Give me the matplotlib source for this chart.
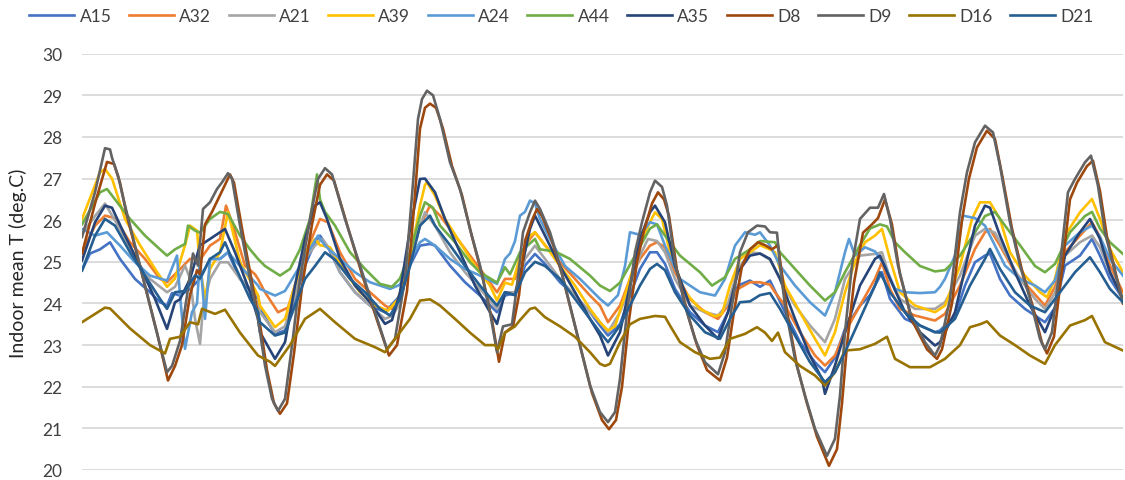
import matplotlib
matplotlib.use("Agg")
import matplotlib.pyplot as plt

# time axis in hours from the start of the record, temperatures in deg.C
a15_t = [0, 1.6, 3.6, 5.6, 7.6, 10.6, 13.6, 15.6, 17, 18, 19.6, 21.6, 23.6, 25.6, 27.6, 29.2, 31.6, 35.2, 35.6, 38.6,
         40.6, 42.6, 44.6, 46.6, 47.6, 49.2, 51.6, 54.6, 57.6, 60.6, 63.6, 65.6, 67.6, 69.6, 70.6, 73.6, 76.6, 79.6, 83, 84.6,
         86.6, 88.6, 90.6, 92.6, 95.6, 98.6, 101.6, 103.6, 105.2, 107.6, 109.6, 111.6, 113.6, 115, 116.6, 118.6, 121.6, 124.6, 127.2, 129.2,
         131.2, 133.6, 135.6, 137.6, 138.6, 140.6, 143.6, 146.6, 148.6, 150.6, 152.6, 155.6, 157.6, 158.6, 160, 161.6, 164.6, 167.6, 170.6, 171.6,
         174.6, 176.6, 178.6, 180.6, 181.6, 183.6, 185.6, 188.6, 192.6, 194.6, 196.6, 199.6, 202, 203.6, 205.6, 208.2]
a15_v = [24.8, 25.2, 25.3, 25.47, 25.07, 24.59, 24.27, 24.03, 23.95, 24.25, 24.19, 24.35, 24.59, 25.07, 25.07, 25.23, 24.59, 24.11, 23.87, 23.27,
         23.35, 24.11, 24.91, 25.47, 25.63, 25.35, 24.75, 24.27, 23.95, 23.79, 24.19, 24.91, 25.39, 25.43, 25.39, 24.91, 24.51, 24.19, 23.79, 24.19,
         24.25, 24.91, 25.19, 24.95, 24.51, 24.19, 23.79, 23.47, 23.23, 23.5, 24.19, 24.83, 25.23, 25.23, 24.95, 24.35, 23.79, 23.47, 23.31, 23.79,
         24.43, 24.55, 24.4, 24.55, 24.3, 23.79, 23.07, 22.59, 22.35, 22.7, 23.39, 23.95, 24.2, 24.43, 24.75, 24.11, 23.63, 23.47, 23.31, 23.35,
         23.7, 24.43, 24.99, 25.15, 25.2, 24.59, 24.19, 23.87, 23.55, 23.9, 24.91, 25.15, 25.55, 25.15, 24.59, 24.11]

a32_t = [0, 2.6, 4.6, 6.6, 9.6, 12.6, 15.6, 17, 19, 21.6, 23.6, 25.6, 27.6, 28.8, 30, 32.6, 34.6, 35.2, 36.6, 39.2,
         41.2, 43.6, 45.6, 47.6, 49.2, 51.6, 54.6, 57.6, 60.6, 62, 63.6, 65.6, 67.6, 69.6, 71.6, 74.6, 77.6, 80.6, 83, 84.6,
         86.6, 88.6, 90.6, 92.6, 95.6, 98.6, 101.6, 103.6, 105.2, 107.6, 109.6, 111.6, 113.6, 115, 116.6, 118.6, 121.6, 124.6, 127.2, 129.2,
         131.2, 133.6, 135.6, 137.6, 138.6, 140.6, 143.6, 146.6, 148.6, 150.6, 152.6, 155.6, 158.6, 160, 161.6, 163.6, 166.6, 170.6, 172.6, 175.6,
         178.6, 180.6, 181.6, 183.6, 186.6, 189.6, 192.6, 194.6, 196.6, 199.6, 202, 203.6, 205.6, 208.2]
a32_v = [25.23, 25.87, 26.11, 26.05, 25.47, 25.07, 24.59, 24.51, 24.75, 25.07, 25.05, 25.39, 25.55, 26.35, 25.95, 24.91, 24.7, 24.59, 24.27, 23.79,
         23.9, 24.83, 25.47, 26.03, 25.95, 25.23, 24.59, 24.27, 23.95, 23.87, 24.1, 24.99, 25.87, 26.35, 26.11, 25.63, 25.15, 24.67, 24.27, 24.59,
         24.59, 25.39, 25.71, 25.4, 24.99, 24.59, 24.19, 23.95, 23.55, 23.95, 24.59, 25.07, 25.39, 25.47, 25.35, 24.75, 24.11, 23.79, 23.63, 23.95,
         24.35, 24.51, 24.51, 24.45, 24.27, 23.95, 23.31, 22.75, 22.51, 22.75, 23.31, 23.95, 24.59, 24.99, 24.35, 23.87, 23.71, 23.59, 23.75, 24.43,
         25.31, 25.71, 25.79, 25.39, 24.75, 24.35, 23.95, 24.4, 25.23, 25.63, 25.95, 25.6, 24.91, 24.27]

a21_t = [0, 2.6, 4.6, 7.6, 10.6, 13.6, 17, 18.6, 20.6, 21.6, 22.6, 23.6, 24.2, 25.6, 27.6, 29.2, 31.6, 35.2, 35.6, 38.6,
         40.6, 42.6, 44.6, 46.6, 48, 49.6, 51.6, 54.6, 57.6, 60.6, 62, 63.6, 65.6, 67.6, 68.6, 69.6, 70.6, 73.6, 76.6, 79.6,
         83, 84.6, 86.6, 88.6, 90.6, 92.6, 95.6, 98.6, 101.6, 103.6, 105.2, 107.6, 109.6, 111.6, 113.2, 115, 116.6, 118.6, 121.6, 124.6,
         127.2, 129.2, 131.2, 133.6, 135.6, 137.6, 139.6, 142.6, 145.6, 148.6, 150.6, 152.6, 155.6, 158.6, 160, 161.6, 163.6, 166.6, 170.6, 172.6,
         175.6, 178.6, 180.6, 182.6, 184.6, 187.6, 190.6, 192.6, 194.6, 196.6, 199.6, 202, 203.6, 205.6, 208.2]
a21_v = [25.67, 26.1, 26.4, 25.79, 25.07, 24.59, 24.27, 24.4, 24.91, 24.6, 23.63, 23.03, 23.9, 24.59, 24.99, 24.99, 24.59, 24.19, 23.79, 23.31,
         23.45, 24.19, 25.07, 25.39, 25.55, 25.3, 24.75, 24.27, 23.95, 23.63, 23.7, 24.0, 25.07, 25.87, 26.19, 26.03, 25.87, 25.23, 24.75, 24.35,
         23.87, 24.27, 24.27, 25.07, 25.39, 25.07, 24.59, 24.19, 23.79, 23.55, 23.31, 23.79, 24.43, 25.15, 25.55, 25.5, 25.23, 24.59, 23.95, 23.79,
         23.71, 24.0, 24.83, 25.23, 25.2, 25.05, 24.59, 23.95, 23.47, 23.07, 23.63, 24.59, 25.15, 25.19, 25.23, 24.59, 24.11, 23.87, 23.87, 24.03,
         24.67, 25.63, 25.79, 25.7, 25.23, 24.59, 24.11, 23.87, 24.25, 25.15, 25.47, 25.63, 25.35, 24.75, 24.11]

a39_t = [0, 3.6, 4.6, 6, 8.6, 11.6, 14.6, 17, 18.6, 20.6, 21.6, 23, 23.6, 24.6, 25.6, 27.6, 29.2, 31.6, 35.2, 35.6,
         38.6, 40.6, 42.6, 44.6, 46.6, 47.6, 49.6, 52.6, 55.6, 58.6, 61.2, 63.2, 65.6, 67.6, 68.6, 69, 70.6, 72.6, 75.6, 78.6,
         81.6, 83, 84.6, 86, 87.4, 89.6, 90.6, 92.6, 95.6, 98.6, 101.6, 103.6, 105.2, 106.6, 108.6, 110.6, 112.6, 114.6, 116, 117.6,
         120.6, 123.6, 126.6, 128, 129.6, 131.6, 133.6, 135.6, 137.6, 138.6, 140.6, 143.6, 146.6, 148.6, 150.6, 152.6, 154.6, 156.6, 158.6, 160,
         161.6, 163.6, 166.6, 170.6, 172.6, 175.6, 178, 179.6, 181.6, 183.6, 185.6, 188.6, 191.6, 193, 194.6, 196.6, 199.6, 202, 203.6, 205.6,
         208.2]
a39_v = [26.03, 27.15, 27.23, 27.0, 26.03, 25.4, 24.83, 24.4, 24.6, 25.4, 25.87, 25.75, 24.9, 24.1, 24.83, 25.23, 26.2, 25.0, 24.2, 23.95,
         23.43, 23.63, 24.43, 25.23, 25.55, 25.4, 25.35, 24.75, 24.27, 23.95, 23.83, 24.1, 25.07, 26.35, 26.85, 26.91, 26.59, 26.03, 25.47, 24.9,
         24.43, 24.07, 24.5, 24.45, 25.03, 25.63, 25.71, 25.4, 24.9, 24.43, 23.87, 23.55, 23.35, 23.45, 24.2, 25.0, 25.71, 26.19, 26.03, 25.23,
         24.27, 23.87, 23.69, 23.75, 24.43, 25.07, 25.23, 25.4, 25.3, 25.23, 24.43, 23.79, 23.15, 22.75, 23.31, 24.27, 25.0, 25.47, 25.63, 25.79,
         25.07, 24.27, 23.95, 23.79, 23.95, 24.9, 26.03, 26.43, 26.43, 26.03, 25.23, 24.67, 24.27, 24.15, 24.59, 25.63, 26.19, 26.51, 26.03, 25.31,
         24.75]

a24_t = [0, 2.6, 5, 7.6, 10.6, 13.6, 17, 19, 19.6, 20.6, 22, 23, 23.6, 24.6, 25.6, 27.6, 29.2, 31.6, 35.2, 35.6,
         38.6, 40.6, 43.6, 45.6, 47.2, 48.6, 51.6, 54.6, 57.6, 61.6, 63.6, 65.6, 67.6, 68.6, 70.6, 73.6, 76.6, 79.6, 83, 84.6,
         85.6, 86.6, 87.6, 88.6, 89.6, 90.6, 91.6, 93.6, 96.6, 99.6, 101.6, 103.6, 105.2, 107.2, 108.6, 109.6, 111.6, 113.6, 115, 116.6,
         119.6, 123.6, 126.6, 128.6, 130.6, 132.6, 134.6, 135.6, 137.6, 139.6, 142.6, 145.6, 148.6, 150.6, 152.6, 153.4, 154.6, 156.6, 158.6, 160.6,
         162.6, 164.6, 167.6, 170.6, 171.6, 172.6, 174.6, 176.2, 178.6, 180.6, 182.6, 184.6, 187.6, 190.6, 192.6, 194.6, 196.6, 199.6, 202, 203.6,
         205.6, 208.2]
a24_v = [25.79, 25.63, 25.71, 25.39, 24.99, 24.67, 24.55, 25.15, 24.19, 22.91, 23.79, 24.0, 25.1, 23.63, 25.07, 25.07, 25.23, 24.9, 24.43, 24.35,
         24.19, 24.3, 24.9, 25.31, 25.63, 25.39, 25.07, 24.75, 24.51, 24.35, 24.45, 25.07, 25.47, 25.55, 25.39, 25.07, 24.83, 24.67, 24.47, 25.07,
         25.2, 25.5, 26.11, 26.2, 26.47, 26.4, 26.03, 25.55, 24.9, 24.59, 24.35, 24.11, 23.95, 24.2, 24.9, 25.71, 25.65, 25.95, 25.9, 25.39,
         24.59, 24.27, 24.19, 24.59, 25.39, 25.71, 25.65, 25.71, 25.39, 24.91, 24.43, 24.03, 23.71, 24.27, 25.23, 25.55, 25.15, 25.35, 25.25, 24.91,
         24.35, 24.27, 24.25, 24.27, 24.4, 24.59, 25.15, 26.11, 26.05, 25.87, 25.39, 24.91, 24.59, 24.43, 24.27, 24.55, 25.39, 25.71, 25.87, 25.6,
         25.07, 24.67]

a44_t = [0, 3.6, 5, 6.6, 9.6, 12.6, 15.6, 17, 18.6, 20.6, 21.2, 22.6, 23.6, 25.6, 27.6, 29.2, 31.6, 33.6, 35.2, 36.6,
         39.6, 41.6, 43.6, 45.6, 47, 47.6, 48.6, 50.6, 53.6, 56.6, 59.6, 62, 63.6, 65.6, 67.6, 68.6, 70.2, 71.6, 74.6, 77.6,
         79.6, 83, 84.6, 85.6, 87.6, 90.6, 91.6, 94.6, 97.6, 101.6, 103.6, 105.6, 107.6, 110.6, 113.6, 115, 116.6, 119.6, 123.6, 126,
         128.6, 130.6, 133.6, 135.6, 138.6, 139.6, 142.6, 145.6, 148.6, 150.6, 152.6, 155.6, 157.6, 159.6, 161, 162.6, 164.6, 167.6, 170.6, 172.6,
         175.6, 178.6, 180.6, 182.6, 184.6, 187.6, 190.6, 192.6, 194.6, 197.6, 200.6, 202, 203.6, 205.6, 208.2]
a44_v = [25.9, 26.67, 26.75, 26.5, 26.03, 25.63, 25.3, 25.15, 25.3, 25.43, 25.87, 25.75, 25.7, 26.03, 26.2, 26.15, 25.63, 25.3, 25.07, 24.9,
         24.67, 24.83, 25.3, 26.03, 27.1, 26.5, 26.2, 25.87, 25.23, 24.83, 24.47, 24.4, 24.6, 25.23, 26.1, 26.43, 26.3, 25.87, 25.47, 24.99,
         24.75, 24.5, 24.87, 24.7, 25.23, 25.55, 25.3, 25.25, 25.07, 24.67, 24.43, 24.3, 24.5, 25.15, 25.8, 25.9, 25.63, 25.15, 24.75, 24.43,
         24.63, 25.07, 25.3, 25.5, 25.47, 25.23, 24.83, 24.43, 24.07, 24.27, 24.75, 25.4, 25.8, 25.9, 25.85, 25.47, 25.23, 24.9, 24.77, 24.8,
         25.15, 25.71, 26.1, 26.2, 25.87, 25.4, 24.9, 24.75, 24.95, 25.71, 26.1, 26.2, 25.8, 25.47, 25.19]

a35_t = [0, 2.6, 4.6, 6, 8.6, 11.6, 14.6, 17, 18.6, 19.6, 21.6, 23.6, 24.6, 26.6, 28.6, 30.6, 33.6, 35.2, 35.6, 38.6,
         40.6, 42.6, 44.6, 46.6, 47.6, 49, 51.6, 54.6, 57.6, 60.6, 62, 63.6, 65.6, 67.6, 68.6, 70.6, 72.6, 75.6, 78.6, 81.6,
         83, 84.6, 86.6, 88, 89.6, 90.6, 92.6, 95.6, 98.6, 101.6, 103.6, 105.2, 107.6, 109.6, 111.6, 113.6, 114.6, 116.6, 118.6, 121.6,
         124.6, 127.2, 129.2, 131.2, 133.6, 135.6, 137.6, 139.6, 142.6, 145.6, 148, 148.6, 150.6, 152.6, 155.6, 158.6, 159.6, 161.6, 164.6, 167.6,
         170.6, 171.6, 174.6, 176.6, 178.6, 180.6, 181.6, 183.6, 186.6, 189.6, 192.6, 194.6, 196.6, 199.6, 201.6, 203.6, 205.6, 208.2]
a35_v = [25.03, 25.95, 26.35, 26.3, 25.63, 24.9, 24.11, 23.39, 24.03, 24.1, 24.59, 25.4, 25.47, 25.63, 25.79, 25.23, 24.27, 23.63, 23.31, 22.67,
         23.07, 24.43, 25.55, 26.35, 26.43, 26.03, 25.07, 24.43, 24.03, 23.51, 23.6, 24.27, 25.79, 26.99, 27.0, 26.67, 26.03, 25.23, 24.43, 23.79,
         23.51, 24.27, 24.2, 24.9, 25.79, 26.11, 25.63, 24.9, 24.27, 23.63, 23.23, 22.75, 23.31, 24.43, 25.55, 26.19, 26.35, 25.95, 24.9, 23.95,
         23.47, 23.15, 23.79, 24.75, 25.15, 25.2, 25.07, 24.59, 23.63, 22.75, 22.19, 21.83, 22.51, 23.31, 24.43, 25.07, 25.15, 24.59, 23.79, 23.31,
         22.99, 23.07, 23.79, 24.83, 25.87, 26.35, 26.3, 25.63, 24.75, 23.95, 23.31, 23.9, 25.15, 25.71, 26.03, 25.55, 24.75, 24.11]

d8_t = [0, 2.6, 5, 6.4, 7.6, 9, 12, 15, 17.2, 18.6, 20, 21.6, 23, 23.6, 24.6, 26, 27.6, 29.6, 30.4, 32,
        34, 35.6, 37, 38.4, 39.6, 41, 42.4, 44, 46, 47.6, 49, 50.4, 53, 56, 59, 61.4, 63, 65, 66.4, 67.6,
        68.6, 69.6, 70.8, 72.2, 74, 76, 78, 80, 82, 83.4, 84.6, 86.2, 87.4, 88.6, 90, 91, 92, 94, 96, 98,
        100, 102, 104, 105.4, 106.8, 108, 109.4, 111, 112.4, 114, 115.2, 116.4, 117.4, 119, 121, 123, 125, 127.6, 129, 130.4,
        132, 133.6, 135.2, 136.6, 138, 139.2, 140, 141, 143, 145, 147, 149.4, 151, 152, 153, 154.4, 156.2, 158, 159.2, 160.6,
        162, 163.6, 166, 169, 171, 172, 174, 176, 177.4, 179, 181, 182.6, 184, 186, 188, 190, 192, 193, 194.4, 196,
        197.6, 199, 201, 202.2, 203.6, 205, 207, 208.2]
d8_v = [25.2, 26.4, 27.4, 27.35, 26.9, 26.1, 24.7, 23.3, 22.15, 22.5, 23.0, 24.2, 24.8, 24.7, 25.9, 26.2, 26.6, 27.1, 26.9, 25.8,
        24.5, 23.5, 22.4, 21.6, 21.35, 21.6, 22.8, 24.4, 25.9, 26.85, 27.1, 26.95, 25.9, 24.7, 23.6, 22.75, 23.0, 24.3, 26.3, 28.2,
        28.7, 28.8, 28.7, 28.2, 27.3, 26.6, 25.6, 24.7, 23.6, 22.6, 23.3, 23.45, 24.2, 25.5, 26.0, 26.27, 26.1, 25.5, 24.7, 23.75,
        22.8, 21.85, 21.2, 20.98, 21.2, 22.0, 23.6, 25.0, 25.75, 26.4, 26.67, 26.5, 26.1, 24.8, 23.8, 23.0, 22.4, 22.15, 22.7, 23.8,
        24.9, 25.3, 25.47, 25.4, 25.3, 25.4, 24.7, 23.8, 22.5, 21.6, 20.8, 20.1, 20.5, 21.6, 23.0, 24.5, 25.7, 25.9, 26.05, 26.5,
        25.9, 24.7, 23.6, 22.9, 22.67, 22.9, 24.0, 26.0, 27.0, 27.75, 28.15, 27.95, 27.1, 25.8, 24.8, 24.0, 23.05, 22.8, 23.2, 24.8,
        26.5, 26.9, 27.3, 27.43, 26.7, 25.6, 24.6, 24.0]

d9_t = [0, 2.6, 4.6, 5.6, 6, 7.2, 8.6, 11.6, 14.6, 17, 18, 19.6, 21, 22.2, 23.2, 24.2, 25.6, 27, 28, 29.2,
        30, 31.6, 33.6, 35.2, 36.6, 38, 39.2, 40.6, 42, 43.6, 45.6, 47.2, 48.6, 50, 52.6, 55.6, 58.6, 61, 62.6, 64.6,
        66, 67.2, 68, 69, 70.2, 71.6, 73.6, 75.6, 77.6, 79.6, 81.6, 83, 84.2, 86, 87, 88.2, 89.6, 90.6, 91.6, 93.6,
        95.6, 97.6, 99.6, 101.6, 103.6, 105.2, 106.6, 107.6, 109, 110.6, 112, 113.6, 114.6, 116, 117, 118.6, 120.6, 122.6, 124.6, 127.2,
        128.6, 130, 131.6, 133.2, 135, 136.6, 137.6, 139, 139.6, 140.6, 142.6, 144.6, 146.6, 149, 150.6, 151.6, 152.6, 154, 155.6, 157.6,
        159.2, 160.4, 161.6, 163.2, 165.6, 168.6, 170.6, 171.6, 173.6, 175.6, 177, 178.6, 180.6, 182.2, 183.6, 185.6, 187.6, 189.6, 191.6, 192.6,
        194, 195.6, 197.2, 198.6, 200.6, 201.8, 203.2, 204.6, 206.6, 208.2]
d9_v = [25.6, 26.67, 27.73, 27.7, 27.5, 27.07, 26.35, 24.91, 23.47, 22.35, 22.5, 23.1, 24.19, 25.2, 24.91, 26.27, 26.43, 26.75, 26.91, 27.13,
        27.0, 25.87, 24.59, 23.63, 22.51, 21.71, 21.42, 21.71, 22.99, 24.59, 26.03, 26.99, 27.25, 27.1, 26.03, 24.91, 23.79, 22.9, 23.15, 24.59,
        26.59, 28.43, 28.91, 29.11, 29.0, 28.43, 27.39, 26.75, 25.79, 24.91, 23.79, 22.83, 23.45, 23.5, 24.43, 25.71, 26.19, 26.47, 26.27, 25.71,
        24.91, 23.95, 22.99, 22.03, 21.39, 21.15, 21.39, 22.19, 23.79, 25.23, 25.95, 26.67, 26.95, 26.8, 26.35, 24.99, 23.95, 23.15, 22.59, 22.3,
        22.83, 23.95, 25.23, 25.71, 25.87, 25.85, 25.71, 25.7, 24.91, 23.95, 22.67, 21.79, 20.99, 20.34, 20.75, 21.79, 23.31, 24.91, 26.03, 26.3,
        26.3, 26.63, 26.03, 24.91, 23.79, 23.07, 22.75, 22.99, 24.11, 26.19, 27.15, 27.87, 28.27, 28.11, 27.31, 25.95, 24.91, 24.11, 23.15, 22.9,
        23.31, 24.91, 26.67, 26.99, 27.39, 27.55, 26.83, 25.71, 24.75, 24.03]

d16_t = [0, 4.6, 5.6, 9.6, 13.6, 16.6, 17.6, 19.6, 21.6, 23.2, 24, 26.6, 28.6, 31.6, 35.2, 37.6, 38.6, 41.6, 44.6, 47.6,
         50.6, 54.6, 58.6, 60.6, 62.6, 65.6, 67.6, 69.6, 71.6, 74.6, 77.6, 80.6, 82.6, 83.2, 84.6, 86.6, 87.6, 89.6, 90.6, 92.6,
         95.6, 98.6, 101.6, 103.6, 104.6, 105.6, 107.6, 109.6, 111.6, 114.6, 116.6, 117.6, 119.6, 122.6, 125.6, 127.6, 129.6, 132.6, 135, 136.6,
         138, 139.2, 140.6, 143.6, 146.6, 148.6, 150.6, 152.6, 155.6, 158.6, 161, 162.6, 165.6, 169.6, 172.6, 175.6, 177.6, 179.6, 181, 183.6,
         186.6, 189.6, 192.6, 194.6, 197.6, 200.6, 202, 204.6, 208.2]
d16_v = [23.55, 23.9, 23.88, 23.4, 23.0, 22.8, 23.15, 23.2, 23.55, 23.5, 23.87, 23.75, 23.85, 23.3, 22.75, 22.6, 22.5, 23.0, 23.63, 23.87,
         23.55, 23.15, 22.95, 22.83, 23.15, 23.63, 24.07, 24.1, 23.95, 23.63, 23.3, 23.0, 23.0, 22.9, 23.3, 23.45, 23.6, 23.87, 23.9, 23.67,
         23.45, 23.2, 22.83, 22.55, 22.5, 22.55, 23.07, 23.5, 23.63, 23.7, 23.68, 23.47, 23.07, 22.83, 22.67, 22.7, 23.15, 23.27, 23.43, 23.3,
         23.1, 23.3, 22.83, 22.5, 22.27, 22.03, 22.35, 22.87, 22.9, 23.03, 23.2, 22.67, 22.47, 22.47, 22.67, 23.0, 23.43, 23.5, 23.57, 23.23,
         23.0, 22.75, 22.55, 23.0, 23.47, 23.6, 23.7, 23.07, 22.87]

d21_t = [0, 2.6, 4.6, 6.6, 9.6, 12.6, 15.6, 17, 18.6, 20.6, 22.6, 23.6, 25.6, 27.6, 28.6, 30.6, 33.6, 35.2, 35.6, 38.6,
         40.6, 42.6, 44.6, 46.6, 48.6, 50.6, 53.6, 56.6, 59.6, 61.6, 63.6, 65.6, 67.6, 69.6, 70.6, 73.6, 76.6, 79.6, 83, 84.6,
         86.6, 88.6, 90.6, 92.6, 95.6, 98.6, 101.6, 103.6, 105.2, 107.6, 109.6, 111.6, 113.6, 115, 116.6, 118.6, 121.6, 124.6, 127.6, 129.6,
         131.6, 133.6, 135.6, 137.6, 139.6, 142.6, 145.6, 148.6, 150.6, 152.6, 155.6, 158.6, 159.6, 161.6, 164.6, 167.6, 170.6, 171.6, 174.6, 177.6,
         180.6, 181.6, 183.6, 186.6, 189.6, 192.6, 195.6, 198.6, 201.6, 203.6, 205.6, 208.2]
d21_v = [24.79, 25.63, 26.03, 25.87, 25.23, 24.67, 24.11, 23.87, 24.27, 24.3, 24.67, 24.6, 25.07, 25.23, 25.47, 24.9, 24.11, 23.79, 23.55, 23.23,
         23.3, 23.95, 24.59, 24.9, 25.23, 25.05, 24.59, 24.27, 23.87, 23.71, 24.11, 24.9, 25.87, 26.11, 25.87, 25.4, 24.9, 24.43, 23.95, 24.27,
         24.2, 24.75, 25.0, 24.9, 24.59, 24.11, 23.63, 23.31, 23.07, 23.47, 23.95, 24.43, 24.83, 24.95, 24.8, 24.27, 23.71, 23.31, 23.15, 23.63,
         24.03, 24.05, 24.2, 24.25, 23.87, 23.23, 22.59, 22.11, 22.35, 22.83, 23.63, 24.43, 24.75, 24.27, 23.79, 23.47, 23.31, 23.3, 23.63, 24.43,
         25.07, 25.31, 24.83, 24.27, 23.95, 23.79, 24.27, 24.75, 25.11, 24.75, 24.35, 24.03]

labels = ['A15', 'A32', 'A21', 'A39', 'A24', 'A44', 'A35', 'D8', 'D9', 'D16', 'D21']
times = [a15_t, a32_t, a21_t, a39_t, a24_t, a44_t, a35_t, d8_t, d9_t, d16_t, d21_t]
values = [a15_v, a32_v, a21_v, a39_v, a24_v, a44_v, a35_v, d8_v, d9_v, d16_v, d21_v]
colors = ['#4472C4', '#ED7D31', '#A5A5A5', '#FFC000', '#5B9BD5', '#70AD47',
          '#264478', '#9E480E', '#636363', '#997300', '#255E91']

plt.rcParams['font.family'] = ['Lato', 'DejaVu Sans']

fig = plt.figure(figsize=(11.25, 4.81), dpi=100)
ax = fig.add_axes([0.0729, 0.0208, 0.9253, 0.8655])

for t, v, c, lab in zip(times, values, colors, labels):
    ax.plot(t, v, color=c, lw=1.9, label=lab, solid_joinstyle='round')

ax.set_xlim(0, 208.2)
ax.set_ylim(20, 30)
ax.set_yticks(range(20, 31))
ax.set_xticks([])
ax.grid(axis='y', color='#D9D9D9', lw=1.3)
ax.set_axisbelow(True)
for s in ax.spines.values():
    s.set_visible(False)
ax.tick_params(axis='y', length=0, pad=14, labelsize=12.5, labelcolor='#404040')

# y label sits left of the tick labels, like the original
ax.set_ylabel('Indoor mean T (deg.C)', fontsize=14, color='#262626')
ax.yaxis.set_label_coords(-0.053, 0.5)

fig.legend(loc='center', bbox_to_anchor=(0.499, 0.965), ncol=11, frameon=False,
           fontsize=12.5, handlelength=2.6, handletextpad=0.3, columnspacing=1.0,
           labelcolor='#404040')

fig.savefig('out.png', dpi=100)
